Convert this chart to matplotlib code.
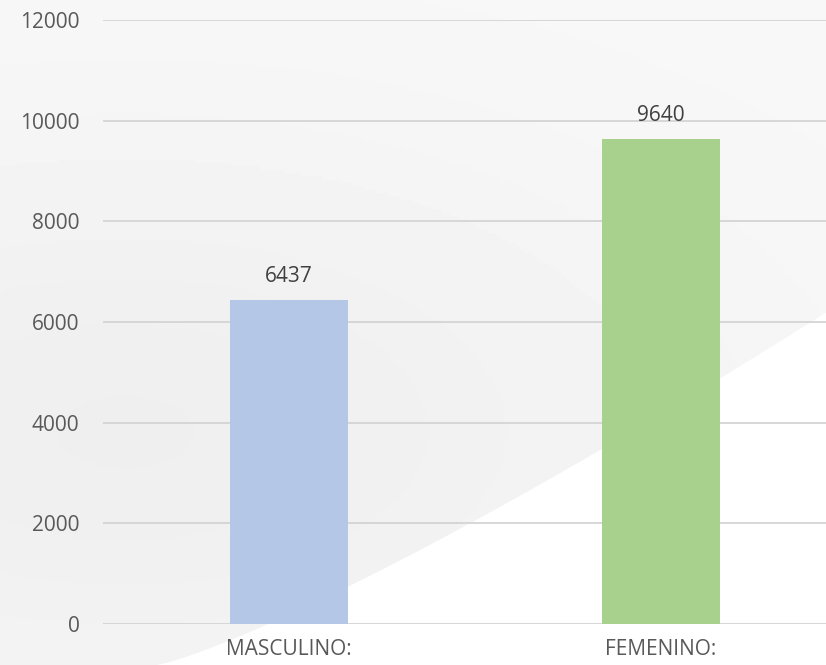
import numpy as np
import matplotlib.pyplot as plt
from matplotlib.patches import Polygon

plt.rcParams['font.family'] = ['Open Sans', 'DejaVu Sans']

categories = ['MASCULINO:', 'FEMENINO:']
values = [6437, 9640]
colors = ['#b4c7e7', '#a9d18e']
yticks = [0, 2000, 4000, 6000, 8000, 10000, 12000]

fig = plt.figure(figsize=(8.26, 6.65), dpi=100)

# soft gray background with a white swoosh lower right
bg = fig.add_axes([0, 0, 1, 1], zorder=-10)
bg.set_xlim(0, 1)
bg.set_ylim(0, 1)
bg.axis('off')
gx, gy = np.meshgrid(np.linspace(0, 1, 200), np.linspace(0, 1, 200))
shade = 0.972 - 0.035 * np.exp(-((gx - 0.15) ** 2 / 0.5 + (gy - 0.35) ** 2 / 0.2))
bg.imshow(shade, cmap='gray', vmin=0, vmax=1, extent=[0, 1, 0, 1],
          origin='lower', aspect='auto')
t = np.linspace(0, 1, 60)
cx = 0.19 + 0.81 * t
cy = 0.53 * t ** 1.2
pts = list(zip(cx, cy)) + [(1, 0)]
bg.add_patch(Polygon(pts, closed=True, facecolor='white', edgecolor='none'))

ax = fig.add_axes([103 / 826, 1 - 624 / 665, 744 / 826, 604 / 665])
ax.set_facecolor('none')
x = np.arange(len(categories))
ax.bar(x, values, width=0.315, color=colors, zorder=3)
for xi, v in zip(x, values):
    ax.text(xi, v + 260, str(v), ha='center', va='bottom', fontsize=15, color='#404040')

ax.set_xlim(-0.5, 1.5)
ax.set_ylim(0, 12000)
ax.set_yticks(yticks)
ax.set_xticks(x)
ax.set_xticklabels(categories)
ax.tick_params(axis='both', length=0, labelsize=15, labelcolor='#595959')
ax.tick_params(axis='y', pad=17)
ax.tick_params(axis='x', pad=11)
ax.grid(axis='y', color='#d4d4d4', linewidth=1.3, zorder=0)
for s in ax.spines.values():
    s.set_visible(False)

fig.savefig('out.png', dpi=100)
